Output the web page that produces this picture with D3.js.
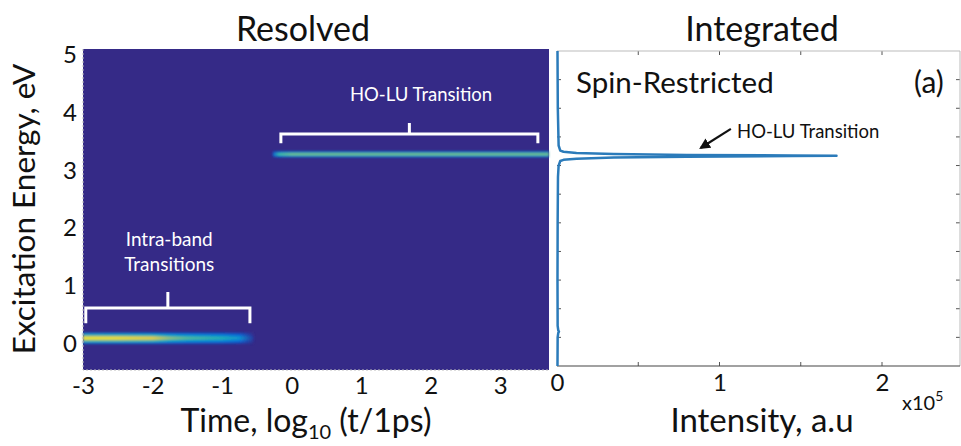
<!DOCTYPE html>
<html>
<head>
<meta charset="utf-8">
<script src="https://cdn.jsdelivr.net/npm/d3@7"></script>
<style>
  body { margin: 0; background: #fff; }
  svg { display: block; font-family: Lato, "Open Sans", sans-serif; }
</style>
</head>
<body>
<div id="chart"></div>
<script>
// ---- data ----
// resolved map: two streaks, brightness (0..1 of colour map) along log10 time
const intraEnergy = 0.1;
const intraTime = [-3, -2.5, -2, -1.75, -1.5, -1.0, -0.75, -0.55];
const intraLevel = [0.97, 0.95, 0.88, 0.66, 0.55, 0.45, 0.32, 0.04];

const holuEnergy = 3.28;
const holuTime = [-0.27, -0.18, 0, 1, 2, 3, 3.7];
const holuLevel = [0.15, 0.52, 0.6, 0.6, 0.6, 0.6, 0.6];

// integrated spectrum: energy (eV) vs intensity (x10^5)
const specEnergy = [-0.5, 0, 0.08, 0.1, 0.12, 0.2, 1, 2, 2.8, 3.0, 3.08, 3.1, 3.12, 3.14, 3.155, 3.165, 3.17, 3.175, 3.185, 3.2, 3.22, 3.24, 3.26, 3.35, 4, 5];
const specIntensity = [0.003, 0.004, 0.008, 0.012, 0.008, 0.004, 0.003, 0.004, 0.006, 0.01, 0.02, 0.04, 0.12, 0.35, 0.8, 1.45, 1.72, 1.45, 0.8, 0.35, 0.12, 0.04, 0.02, 0.01, 0.005, 0.003];

const leftXTicks = [-3, -2, -1, 0, 1, 2, 3];
const leftYTicks = [0, 1, 2, 3, 4, 5];
const rightXTicks = [0, 1, 2];

// parula colour map
const parulaStops = ["#352a87", "#0363e1", "#1485d4", "#06a7c6", "#38b99e", "#92bf73", "#d1bb59", "#fec832", "#f9fb0e"];
const parula = d3.interpolateRgbBasis(parulaStops);

let width = 961, height = 446;
let svg = d3.select("#chart").append("svg")
  .attr("width", width)
  .attr("height", height);

svg.append("rect").attr("width", width).attr("height", height).attr("fill", "#fff");

let defs = svg.append("defs");

// scales
let xL = d3.scaleLinear().domain([-3, 3.7]).range([83, 549]);
let yL = d3.scaleLinear().domain([-0.45, 5.1]).range([370, 49]);
let xR = d3.scaleLinear().domain([0, 2.48]).range([557, 960]);
let yR = d3.scaleLinear().domain([-0.5, 5]).range([366, 51]);

// ---- left: resolved map ----
svg.append("rect")
  .attr("x", xL(-3)).attr("y", yL(5.1))
  .attr("width", xL(3.7) - xL(-3)).attr("height", yL(-0.45) - yL(5.1))
  .attr("fill", parula(0));

defs.append("filter").attr("id", "soft")
  .attr("x", "-5%").attr("y", "-200%").attr("width", "110%").attr("height", "500%")
  .append("feGaussianBlur").attr("stdDeviation", "0.8 1.1");

function drawStreak(id, energy, times, levels, layers) {
  let g = svg.append("g").attr("filter", "url(#soft)");
  layers.forEach((ly, i) => {
    let grad = defs.append("linearGradient")
      .attr("id", id + i)
      .attr("gradientUnits", "userSpaceOnUse")
      .attr("x1", xL(times[0])).attr("x2", xL(times[times.length - 1]))
      .attr("y1", 0).attr("y2", 0);
    times.forEach((t, j) => {
      grad.append("stop")
        .attr("offset", (t - times[0]) / (times[times.length - 1] - times[0]))
        .attr("stop-color", parula(levels[j] * ly.k));
    });
    g.append("rect")
      .attr("x", xL(times[0]))
      .attr("width", xL(times[times.length - 1]) - xL(times[0]))
      .attr("y", yL(energy + ly.hw))
      .attr("height", yL(energy - ly.hw) - yL(energy + ly.hw))
      .attr("fill", `url(#${id + i})`);
  });
}

drawStreak("intra", intraEnergy, intraTime, intraLevel,
  [{ hw: 0.095, k: 0.25 }, { hw: 0.065, k: 0.5 }, { hw: 0.04, k: 0.72 }, { hw: 0.017, k: 1 }]);
drawStreak("holu", holuEnergy, holuTime, holuLevel,
  [{ hw: 0.05, k: 0.4 }, { hw: 0.03, k: 0.75 }, { hw: 0.015, k: 1 }]);

// dotted frame edges
svg.append("path")
  .attr("d", `M${xL(-3)},${yL(5.1)}V${yL(-0.45)}H${xL(3.7)}`)
  .attr("fill", "none").attr("stroke", "#bbb").attr("stroke-width", 1)
  .attr("stroke-dasharray", "2,2");

// brackets
function bracket(t0, t1, e, eEnd, eTop) {
  let tm = (t0 + t1) / 2;
  svg.append("path")
    .attr("d", `M${xL(t0)},${yL(eEnd)}V${yL(e)}H${xL(t1)}V${yL(eEnd)}M${xL(tm)},${yL(e)}V${yL(eTop)}`)
    .attr("fill", "none").attr("stroke", "#fff").attr("stroke-width", 3);
}
bracket(-2.96, -0.6, 0.62, 0.36, 0.9);
bracket(-0.155, 3.54, 3.63, 3.47, 3.82);

svg.append("text")
  .attr("x", xL(1.86)).attr("y", yL(4.2))
  .attr("text-anchor", "middle").attr("fill", "#fff").style("font-size", "18.5px")
  .text("HO-LU Transition");
svg.append("text")
  .attr("x", xL(-1.76)).attr("y", yL(1.69))
  .attr("text-anchor", "middle").attr("fill", "#fff").style("font-size", "19px")
  .text("Intra-band");
svg.append("text")
  .attr("x", xL(-1.76)).attr("y", yL(1.26))
  .attr("text-anchor", "middle").attr("fill", "#fff").style("font-size", "19px")
  .text("Transitions");

// left axes
svg.append("g")
  .attr("transform", `translate(${xL(-3)},0)`)
  .call(d3.axisLeft(yL).tickValues(leftYTicks).tickSize(0).tickPadding(6).tickFormat(d => String(d)))
  .call(g => g.select(".domain").remove())
  .selectAll("text").style("font-size", "24px").style("font-family", "Lato, sans-serif").attr("fill", "#111");

svg.append("g")
  .attr("transform", `translate(0,${yL(-0.45)})`)
  .call(d3.axisBottom(xL).tickValues(leftXTicks).tickSize(0).tickPadding(7).tickFormat(d => String(d)))
  .call(g => g.select(".domain").remove())
  .selectAll("text").style("font-size", "24px").style("font-family", "Lato, sans-serif").attr("fill", "#111");

// ---- right: integrated spectrum ----
let ticksIn = svg.append("g").attr("stroke", "#555").attr("stroke-width", 1);
d3.range(0.5, 2.48, 0.5).forEach(v => {
  ticksIn.append("line").attr("x1", xR(v)).attr("x2", xR(v)).attr("y1", yR(5)).attr("y2", yR(5) + 4);
  ticksIn.append("line").attr("x1", xR(v)).attr("x2", xR(v)).attr("y1", yR(-0.5)).attr("y2", yR(-0.5) - 4);
});
d3.range(0, 4.6, 0.5).forEach(v => {
  ticksIn.append("line").attr("x1", xR(0)).attr("x2", xR(0) + 4).attr("y1", yR(v)).attr("y2", yR(v));
  ticksIn.append("line").attr("x1", xR(2.48) - 4).attr("x2", xR(2.48)).attr("y1", yR(v)).attr("y2", yR(v));
});

svg.append("line").attr("x1", xR(0)).attr("x2", xR(2.48)).attr("y1", yR(5)).attr("y2", yR(5))
  .attr("stroke", "#bbb");
svg.append("line").attr("x1", xR(2.48)).attr("x2", xR(2.48)).attr("y1", yR(5)).attr("y2", yR(-0.5))
  .attr("stroke", "#bbb");
svg.append("line").attr("x1", xR(0)).attr("x2", xR(2.48)).attr("y1", yR(-0.5)).attr("y2", yR(-0.5))
  .attr("stroke", "#444").attr("stroke-width", 1.2);

let spec = specEnergy.map((e, i) => ({ e: e, v: specIntensity[i] }));
svg.append("path")
  .datum(spec)
  .attr("fill", "none")
  .attr("stroke", "#2b7bba")
  .attr("stroke-width", 2.5)
  .attr("stroke-linejoin", "round")
  .attr("d", d3.line().x(d => xR(d.v)).y(d => yR(d.e)));

svg.append("g")
  .attr("transform", `translate(0,${yR(-0.5)})`)
  .call(d3.axisBottom(xR).tickValues(rightXTicks).tickSize(0).tickPadding(8).tickFormat(d => String(d)))
  .call(g => g.select(".domain").remove())
  .selectAll("text").style("font-size", "24px").style("font-family", "Lato, sans-serif").attr("fill", "#111");

// arrow + label
defs.append("marker").attr("id", "arrow")
  .attr("viewBox", "0 0 10 10").attr("refX", 8).attr("refY", 5)
  .attr("markerWidth", 5).attr("markerHeight", 5).attr("orient", "auto")
  .append("path").attr("d", "M0,0L10,5L0,10z").attr("fill", "#111");
svg.append("line")
  .attr("x1", xR(1.07)).attr("y1", yR(3.64))
  .attr("x2", xR(0.886)).attr("y2", yR(3.31))
  .attr("stroke", "#111").attr("stroke-width", 2.2)
  .attr("marker-end", "url(#arrow)");
svg.append("text")
  .attr("x", xR(1.108)).attr("y", yR(3.48))
  .attr("fill", "#111").style("font-size", "18.5px")
  .text("HO-LU Transition");

svg.append("text").attr("x", 576).attr("y", 93).style("font-size", "29.5px").attr("fill", "#111")
  .text("Spin-Restricted");
svg.append("text").attr("x", 914).attr("y", 93).style("font-size", "30px").attr("fill", "#111")
  .text("(a)");

// ---- titles & axis labels ----
svg.append("text").attr("x", 303).attr("y", 41).attr("text-anchor", "middle")
  .style("font-size", "34px").attr("fill", "#111").text("Resolved");
svg.append("text").attr("x", 762).attr("y", 41).attr("text-anchor", "middle")
  .style("font-size", "34px").attr("fill", "#111").text("Integrated");

svg.append("text")
  .attr("transform", "translate(35,209) rotate(-90)")
  .attr("text-anchor", "middle")
  .style("font-size", "31.5px").attr("fill", "#111")
  .text("Excitation Energy, eV");

let tl = svg.append("text").attr("x", 306).attr("y", 432).attr("text-anchor", "middle")
  .style("font-size", "32px").attr("fill", "#111");
tl.append("tspan").text("Time, log");
tl.append("tspan").attr("dy", 7).style("font-size", "20px").text("10");
tl.append("tspan").attr("dy", -7).text(" (t/1ps)");

svg.append("text").attr("x", 762).attr("y", 432).attr("text-anchor", "middle")
  .style("font-size", "33px").attr("fill", "#111").text("Intensity, a.u");

let sc = svg.append("text").attr("x", 902).attr("y", 410).style("font-size", "20px").attr("fill", "#111");
sc.append("tspan").text("x10");
sc.append("tspan").attr("dy", -9).style("font-size", "14px").text("5");
</script>
</body>
</html>
